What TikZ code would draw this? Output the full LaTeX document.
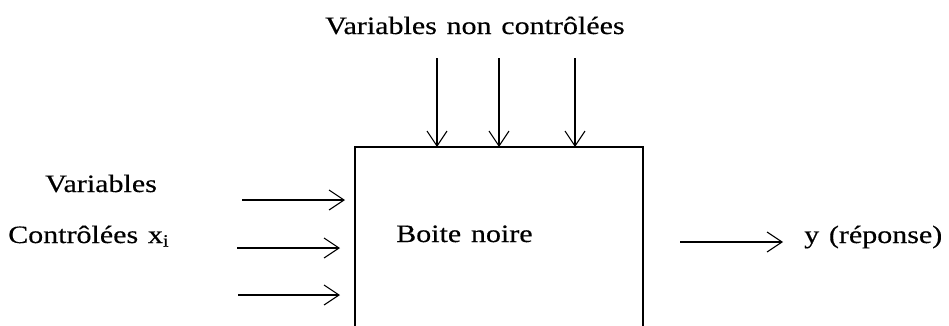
\documentclass[tikz,border=0pt]{standalone}
\usepackage{fontspec}
\setmainfont{Liberation Serif}[FakeStretch=1.2,WordSpace=1.3,FakeBold=0.4]
\usetikzlibrary{arrows.meta}
\begin{document}
\begin{tikzpicture}[x=1pt,y=-1pt,
  conn/.style={line width=1.1pt,-{Straight Barb[length=15pt,width=20pt,line width=1.1pt]}},
  lbl/.style={inner sep=0pt,anchor=base west,font=\fontsize{25}{30}\selectfont}]
\useasboundingbox (0,0) rectangle (949,325);
% box (open at the bottom)
\coordinate (bl) at (355,330);
\coordinate (tl) at (355,147);
\coordinate (tr) at (643,147);
\coordinate (br) at (643,330);
\draw[line width=1.3pt] (bl) -- (tl) -- (tr) -- (br);
% texts
\node[lbl] (top) at (325,34) {Variables non contrôlées};
\node[lbl] (v1) at (45,192) {Variables};
\node[lbl] (v2) at (8,243) {Contrôlées x\textsubscript{i}};
\node[lbl] (bn) at (396,242) {Boite noire};
\node[lbl] (y) at (804,243) {y (réponse)};
% top arrows
\coordinate (d1s) at (437,58); \coordinate (d1e) at (437,147);
\coordinate (d2s) at (499,58); \coordinate (d2e) at (499,147);
\coordinate (d3s) at (575,58); \coordinate (d3e) at (575,147);
\draw[conn] (d1s) -- (d1e);
\draw[conn] (d2s) -- (d2e);
\draw[conn] (d3s) -- (d3e);
% left arrows
\coordinate (l1s) at (242,200); \coordinate (l1e) at (345,200);
\coordinate (l2s) at (237,248); \coordinate (l2e) at (340,248);
\coordinate (l3s) at (238,295); \coordinate (l3e) at (340,295);
\draw[conn] (l1s) -- (l1e);
\draw[conn] (l2s) -- (l2e);
\draw[conn] (l3s) -- (l3e);
% output arrow
\coordinate (os) at (680,242); \coordinate (oe) at (783,242);
\draw[conn] (os) -- (oe);
\end{tikzpicture}
\end{document}
